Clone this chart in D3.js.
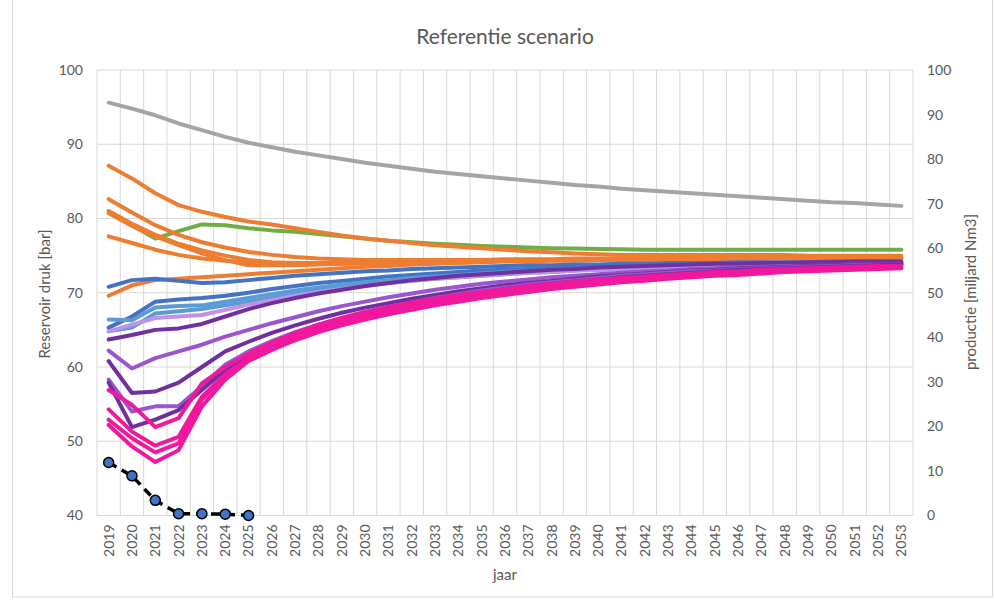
<!DOCTYPE html>
<html><head><meta charset="utf-8">
<script src="https://cdn.jsdelivr.net/npm/d3@7"></script>
<style>
html,body{margin:0;padding:0;background:#fff;}
svg text{font-family:Lato,"Open Sans",sans-serif;fill:#595959;}
</style></head>
<body><svg id="chart" width="994" height="601"></svg>
<script>
const years = d3.range(2019, 2054);
const leftTicks = [40,50,60,70,80,90,100];
const rightTicks = [0,10,20,30,40,50,60,70,80,90,100];

const gray  = [95.6,94.8,93.9,92.8,91.9,91.0,90.2,89.6,89.0,88.5,88.0,87.5,87.1,86.7,86.3,86.0,85.7,85.4,85.1,84.8,84.5,84.3,84.0,83.8,83.6,83.4,83.2,83.0,82.8,82.6,82.4,82.2,82.1,81.9,81.7];
const green = [80.9,79.1,77.3,78.3,79.2,79.1,78.7,78.4,78.2,77.9,77.6,77.3,77.0,76.8,76.6,76.45,76.3,76.2,76.1,76.0,75.95,75.9,75.85,75.8,75.8,75.8,75.8,75.8,75.8,75.8,75.8,75.8,75.8,75.8,75.8];
const orange1 = [87.1,85.4,83.4,81.8,80.9,80.2,79.6,79.2,78.7,78.2,77.7,77.3,77.0,76.7,76.4,76.2,76.0,75.8,75.6,75.45,75.3,75.2,75.1,75.1,75.1,75.1,75.1,75.1,75.1,75.1,75.0,75.0,75.0,75.0,75.0];
const orange2 = [82.6,80.8,79.1,77.8,76.8,76.1,75.5,75.1,74.8,74.6,74.5,74.4,74.4,74.4,74.4,74.4,74.4,74.5,74.5,74.5,74.6,74.6,74.6,74.7,74.7,74.7,74.7,74.8,74.8,74.8,74.8,74.8,74.8,74.8,74.8];
const orange3 = [81.0,79.3,77.8,76.6,75.7,75.0,74.4,74.1,74.0,73.9,73.9,74.0,74.0,74.1,74.1,74.2,74.2,74.3,74.3,74.4,74.4,74.5,74.5,74.5,74.6,74.6,74.6,74.6,74.7,74.7,74.7,74.7,74.7,74.7,74.7];
const orange4 = [80.7,79.0,77.6,76.4,75.3,74.4,73.7,73.7,73.7,73.8,73.9,74.0,74.0,74.1,74.1,74.2,74.2,74.3,74.3,74.4,74.4,74.4,74.5,74.5,74.5,74.6,74.6,74.6,74.6,74.7,74.7,74.7,74.7,74.7,74.7];
const orange5 = [77.6,76.7,75.8,75.1,74.6,74.3,74.1,74.0,74.0,74.0,74.0,74.1,74.1,74.2,74.2,74.3,74.3,74.3,74.4,74.4,74.4,74.5,74.5,74.5,74.5,74.6,74.6,74.6,74.6,74.6,74.6,74.6,74.6,74.6,74.6];
const orange6 = [69.6,71.0,71.7,71.9,72.1,72.3,72.5,72.7,72.9,73.1,73.3,73.5,73.6,73.8,73.9,74.0,74.1,74.2,74.2,74.3,74.3,74.4,74.4,74.4,74.5,74.5,74.5,74.5,74.6,74.6,74.6,74.6,74.6,74.6,74.6];
const blue1 = [70.8,71.7,71.9,71.6,71.3,71.4,71.7,72.0,72.3,72.5,72.7,72.9,73.0,73.2,73.3,73.4,73.5,73.6,73.7,73.7,73.8,73.8,73.9,73.9,74.0,74.0,74.0,74.1,74.1,74.1,74.1,74.2,74.2,74.2,74.2];
const blue2 = [65.3,66.8,68.8,69.1,69.3,69.6,70.0,70.5,70.9,71.3,71.6,71.9,72.2,72.4,72.6,72.8,73.0,73.1,73.2,73.3,73.4,73.5,73.6,73.7,73.7,73.8,73.8,73.9,73.9,73.9,74.0,74.0,74.0,74.0,74.1];
const lightBlue1 = [66.4,66.3,68.0,68.2,68.3,68.8,69.3,69.8,70.3,70.7,71.1,71.4,71.7,72.0,72.2,72.4,72.6,72.8,72.9,73.1,73.2,73.3,73.4,73.5,73.6,73.6,73.7,73.7,73.8,73.8,73.9,73.9,73.9,74.0,74.0];
const lightBlue2 = [64.8,65.3,67.2,67.5,67.8,68.3,68.8,69.3,69.8,70.3,70.7,71.0,71.3,71.6,71.9,72.1,72.3,72.5,72.7,72.8,73.0,73.1,73.2,73.3,73.4,73.5,73.5,73.6,73.7,73.7,73.8,73.8,73.8,73.9,73.9];
const lavender = [64.8,65.7,66.6,66.8,67.0,67.7,68.4,69.0,69.6,70.1,70.5,70.9,71.3,71.6,71.9,72.1,72.3,72.5,72.7,72.8,73.0,73.1,73.2,73.3,73.4,73.5,73.5,73.6,73.7,73.7,73.8,73.8,73.9,73.9,73.9];
const purple1 = [63.7,64.3,65.0,65.2,65.8,66.8,67.8,68.6,69.3,69.9,70.4,70.9,71.3,71.7,72.0,72.3,72.5,72.7,72.9,73.1,73.2,73.4,73.5,73.6,73.7,73.8,73.9,73.9,74.0,74.0,74.1,74.1,74.2,74.2,74.2];
const purple2 = [62.2,59.8,61.2,62.1,63.0,64.1,65.0,65.9,66.7,67.5,68.2,68.8,69.4,69.9,70.4,70.8,71.2,71.5,71.8,72.1,72.3,72.5,72.7,72.9,73.0,73.2,73.3,73.4,73.5,73.6,73.6,73.7,73.8,73.8,73.9];
const purple3 = [60.8,56.5,56.7,57.9,60.0,62.1,63.4,64.6,65.6,66.5,67.3,68.0,68.6,69.2,69.7,70.2,70.6,71.0,71.3,71.6,71.9,72.2,72.4,72.6,72.8,73.0,73.1,73.3,73.4,73.5,73.6,73.7,73.8,73.8,73.9];
const purple4 = [58.3,54.0,54.7,54.7,57.4,60.3,62.1,63.5,64.7,65.7,66.6,67.4,68.1,68.7,69.3,69.8,70.3,70.7,71.1,71.4,71.7,72.0,72.3,72.5,72.7,72.9,73.0,73.2,73.3,73.4,73.5,73.6,73.7,73.7,73.8];
const purple5 = [57.9,51.9,52.9,54.2,56.9,59.6,61.4,63.0,64.3,65.4,66.3,67.1,67.8,68.5,69.0,69.5,70.0,70.5,70.9,71.2,71.5,71.8,72.1,72.3,72.5,72.7,72.9,73.1,73.2,73.3,73.4,73.5,73.6,73.7,73.8];
const pink1 = [56.9,54.9,51.9,53.1,57.8,60.0,61.8,63.3,64.6,65.7,66.6,67.4,68.1,68.7,69.2,69.7,70.1,70.5,70.9,71.2,71.5,71.8,72.0,72.2,72.4,72.6,72.8,72.9,73.1,73.2,73.3,73.4,73.5,73.6,73.6];
const pink2 = [54.3,51.3,49.4,50.6,56.0,59.0,61.2,62.8,64.1,65.2,66.1,66.9,67.6,68.3,68.8,69.3,69.8,70.2,70.6,70.9,71.2,71.5,71.8,72.0,72.2,72.4,72.6,72.7,72.9,73.0,73.1,73.2,73.3,73.4,73.5];
const pink3 = [52.9,50.4,48.5,49.7,55.6,58.8,61.0,62.5,63.8,64.9,65.8,66.6,67.3,68.0,68.5,69.0,69.5,69.9,70.3,70.7,71.0,71.3,71.6,71.8,72.0,72.2,72.4,72.6,72.7,72.9,73.0,73.1,73.2,73.3,73.4];
const pink4 = [52.2,49.3,47.2,48.8,54.7,58.3,60.8,62.3,63.6,64.7,65.6,66.4,67.1,67.7,68.3,68.8,69.3,69.7,70.1,70.5,70.8,71.1,71.4,71.6,71.9,72.1,72.3,72.4,72.6,72.8,72.9,73.0,73.1,73.2,73.3];
const productionYears = [2019,2020,2021,2022,2023,2024,2025];
const production = [11.9,8.9,3.4,0.4,0.4,0.3,0.0];

const seriesList = [
  {v: gray, c: "#A5A5A5"},
  {v: green, c: "#70AD47"},
  {v: orange1, c: "#ED7D31"},
  {v: orange2, c: "#ED7D31"},
  {v: orange3, c: "#ED7D31"},
  {v: orange4, c: "#ED7D31"},
  {v: orange5, c: "#ED7D31"},
  {v: orange6, c: "#ED7D31"},
  {v: blue1, c: "#4472C4"},
  {v: blue2, c: "#4472C4"},
  {v: lightBlue1, c: "#5B9BD5"},
  {v: lightBlue2, c: "#5B9BD5"},
  {v: lavender, c: "#BE92E6"},
  {v: purple1, c: "#7030A0"},
  {v: purple2, c: "#9B55CF"},
  {v: purple3, c: "#7030A0"},
  {v: purple4, c: "#9B55CF"},
  {v: purple5, c: "#7030A0"},
  {v: pink1, c: "#F0189C"},
  {v: pink2, c: "#F0189C"},
  {v: pink3, c: "#F0189C"},
  {v: pink4, c: "#F0189C"}
];

const svg = d3.select("#chart");
const L = 97, R = 913, T = 70, B = 515.5;

// outer chart border
svg.append("rect").attr("x",12.5).attr("y",-1).attr("width",980).attr("height",598)
  .attr("fill","none").attr("stroke","#D9D9D9");

const x = d3.scaleBand().domain(years).range([L, R]).padding(0);
const yL = d3.scaleLinear().domain([40, 100]).range([B, T]);
const yR = d3.scaleLinear().domain([0, 100]).range([B, T]);
const cx = d => x(d) + x.bandwidth() / 2;

// gridlines
const grid = svg.append("g").attr("stroke","#D9D9D9").attr("stroke-width",1);
leftTicks.forEach(t => grid.append("line").attr("x1",L).attr("x2",R).attr("y1",yL(t)).attr("y2",yL(t)));
years.forEach(yr => grid.append("line").attr("x1",x(yr)).attr("x2",x(yr)).attr("y1",T).attr("y2",B));
grid.append("line").attr("x1",R).attr("x2",R).attr("y1",T).attr("y2",B);

// axes
const axL = svg.append("g").attr("transform",`translate(${L},0)`)
  .call(d3.axisLeft(yL).tickValues(leftTicks).tickSize(0).tickPadding(14));
const axR = svg.append("g").attr("transform",`translate(${R},0)`)
  .call(d3.axisRight(yR).tickValues(rightTicks).tickSize(0).tickPadding(14));
const axB = svg.append("g").attr("transform",`translate(0,${B})`)
  .call(d3.axisBottom(x).tickSize(0).tickPadding(0));
[axL, axR, axB].forEach(a => { a.select(".domain").remove(); a.selectAll("text").attr("font-size","14px").attr("fill","#595959").style("font-family","Lato"); });
axB.selectAll("text").attr("transform","rotate(-90)").attr("text-anchor","end")
  .attr("x",-9).attr("y",0).attr("dy","0.35em");
svg.append("line").attr("x1",L).attr("x2",R).attr("y1",B).attr("y2",B).attr("stroke","#D9D9D9");

// lines
const line = d3.line().x((d,i) => cx(years[i])).y(d => yL(d));
seriesList.forEach(s => {
  svg.append("path").datum(s.v).attr("d", line).attr("fill","none")
    .attr("stroke", s.c).attr("stroke-width", 4).attr("stroke-linejoin","round").attr("stroke-linecap","round");
});

// production
const pline = d3.line().x((d,i) => cx(productionYears[i])).y(d => yR(d));
svg.append("path").datum(production).attr("d", pline).attr("fill","none")
  .attr("stroke","#000").attr("stroke-width",3.5).attr("stroke-dasharray","9,6");
svg.append("g").selectAll("circle").data(production).join("circle")
  .attr("cx",(d,i) => cx(productionYears[i])).attr("cy", d => yR(d)).attr("r",5)
  .attr("fill","#4472C4").attr("stroke","#000").attr("stroke-width",1.5);

// titles
svg.append("text").attr("x",505).attr("y",44).attr("text-anchor","middle")
  .attr("font-size","21px").text("Referentie scenario");
svg.append("text").attr("transform","translate(50,294) rotate(-90)").attr("text-anchor","middle")
  .attr("font-size","15px").text("Reservoir druk [bar]");
svg.append("text").attr("transform","translate(976,292) rotate(-90)").attr("text-anchor","middle")
  .attr("font-size","15px").text("productie [miljard Nm3]");
svg.append("text").attr("x",505).attr("y",580).attr("text-anchor","middle")
  .attr("font-size","15px").text("jaar");
</script></body></html>
